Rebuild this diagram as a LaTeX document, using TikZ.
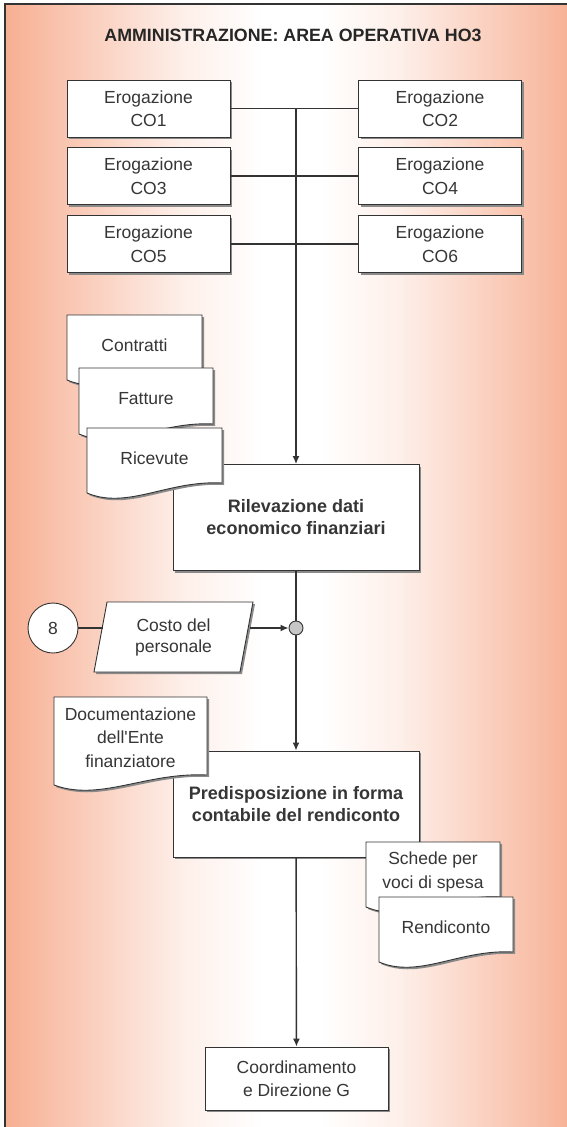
\documentclass[tikz,border=0pt]{standalone}
\usepackage{fontspec}
\setmainfont{Liberation Sans}[Ligatures=TeXOff]
\usetikzlibrary{arrows.meta,shapes.geometric,shadows}
\definecolor{areaSalmon}{HTML}{F7AF92}
\definecolor{areaInk}{HTML}{363636}
\definecolor{areaLine}{HTML}{333333}
\definecolor{areaShadow}{HTML}{8A8A8A}
\pgfdeclarehorizontalshading{areaglow}{100bp}{color(0bp)=(areaSalmon); color(25bp)=(areaSalmon);
  color(33.5bp)=(areaSalmon!55!white); color(40.5bp)=(areaSalmon!20!white); color(47.5bp)=(white);
  color(52.5bp)=(white); color(59.5bp)=(areaSalmon!20!white); color(66.5bp)=(areaSalmon!55!white);
  color(75bp)=(areaSalmon); color(100bp)=(areaSalmon)}

% document symbol: name, x, y, width, height, text
\newcommand{\docnode}[6]{%
  \path[docbox] (#2,#3) -- ++(#4,0) -- ++(0,#5-10)
    .. controls +({-0.4*#4},-3) and +({0.3*#4},17) .. ++(-#4,10) -- cycle;
  \node[txt] (#1) at ({#2+#4/2},{#3+0.46*#5}) {#6};}

\begin{document}
\begin{tikzpicture}[x=1pt, y=-1pt,
    font=\fontsize{17.5}{23.5}\selectfont,
    txt/.style={text=areaInk, align=center, inner sep=2pt},
    shade box/.style={drop shadow={shadow xshift=2pt, shadow yshift=-2pt, opacity=1, fill=areaShadow}},
    box/.style={txt, draw=areaLine, line width=0.9pt, fill=white, shade box},
    erobox/.style={box, minimum width=163pt, minimum height=57pt},
    procbox/.style={box, font=\fontsize{18}{22}\selectfont\bfseries, minimum width=246pt, minimum height=106pt},
    docbox/.style={draw=areaLine, line width=0.9pt, fill=white, shade box},
    link/.style={draw=areaLine, line width=1.4pt},
    arr/.style={link, -{Latex[length=8pt, width=7pt]}}]
  \useasboundingbox (0,0) rectangle (567,1127);
  \clip (0,0) rectangle (567,1127);

  % background panel
  \shade[shading=areaglow] (5,4) rectangle (577,1140);
  \draw[areaLine, line width=1.2pt] (5,1140) -- (5,4) -- (577,4);
  \node[txt, font=\fontsize{17.8}{20}\selectfont\bfseries, text=black!85] (title) at (293,35) {AMMINISTRAZIONE: AREA OPERATIVA HO3};

  % erogazioni
  \foreach \n/\x/\y in {1/148.5/108.5, 2/440/108.5, 3/148.5/176, 4/440/176, 5/148.5/244, 6/440/244}
    \node[erobox] (co\n) at (\x,\y) {Erogazione\\CO\n};
  \foreach \a/\b in {1/2, 3/4, 5/6}
    \draw[link] (co\a) -- (co\b);

  \node[procbox] (rilev) at (296,517.5) {Rilevazione dati\\economico finanziari};
  \draw[arr] (co1 -| rilev.north) -- (rilev.north);

  \docnode{contratti}{67}{315}{135}{65}{Contratti}
  \docnode{fatture}{79}{368}{134}{66}{Fatture}
  \docnode{ricevute}{87}{428}{135}{65}{Ricevute}

  % costo del personale
  \node[txt, circle, draw=areaLine, line width=0.9pt, fill=white, minimum size=50pt, inner sep=0pt] (uno) at (53,628) {8};
  \node[box, trapezium, trapezium left angle=72.5, trapezium right angle=107.5, trapezium stretches body,
    minimum width=159pt, minimum height=70pt, font=\fontsize{17.5}{21}\selectfont] (costo) at (173.5,637) {Costo del\\personale};
  \node[circle, draw=areaLine, line width=0.9pt, fill=gray!45, minimum size=14pt, inner sep=0pt] (jn) at (296,628) {};
  \draw[link] (uno) -- ([xshift=3pt]uno -| costo.west);
  \draw[arr] ([xshift=3pt]jn -| costo.east) -- (jn);
  \draw[link] (rilev) -- (jn);

  \node[procbox] (predisp) at (296,804) {Predisposizione in forma\\contabile del rendiconto};
  \draw[arr] (jn) -- (predisp);

  \docnode{docente}{54}{697}{153}{88}{Documentazione\\dell'Ente\\finanziatore}
  \docnode{schede}{366}{842}{134}{65}{Schede per\\voci di spesa}
  \docnode{rendic}{379}{897}{134}{65}{Rendiconto}

  \node[box, minimum width=183pt, minimum height=63pt] (coord) at (296.5,1078.5) {Coordinamento\\e Direzione G};
  \draw[arr] (predisp) -- (coord);
\end{tikzpicture}
\end{document}
